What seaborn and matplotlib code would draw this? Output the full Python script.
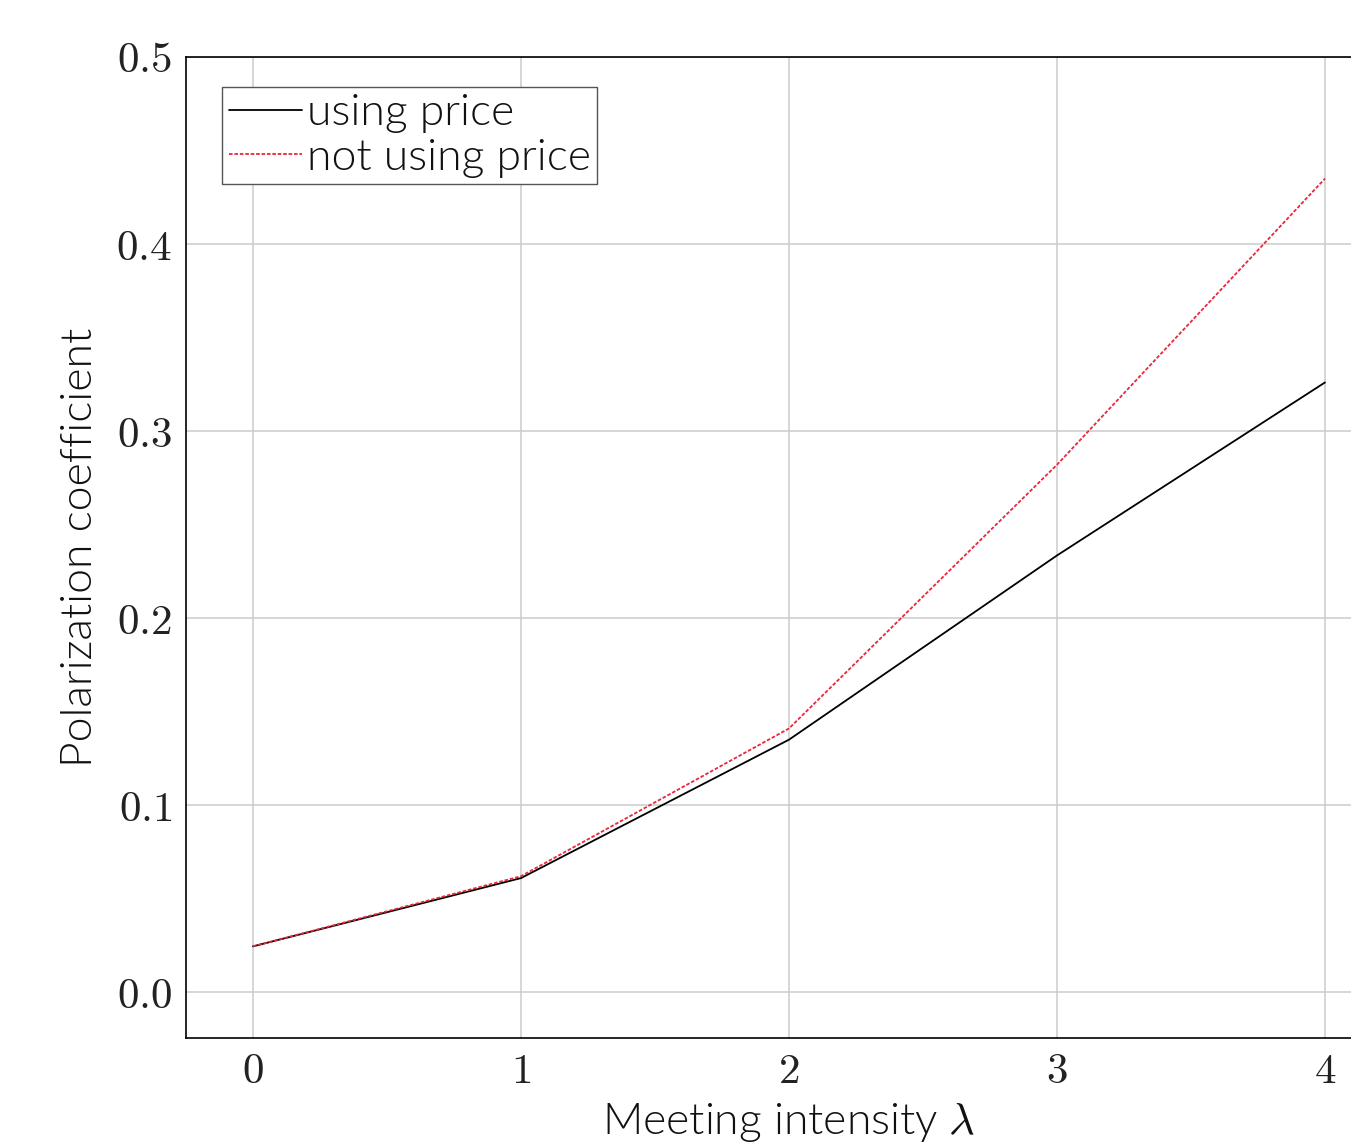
import numpy as np
import pandas as pd
import seaborn as sb
import matplotlib.pyplot as plt

# values
intensity = [0, 1, 2, 3, 4]
using_price = [0.0245, 0.061, 0.135, 0.2335, 0.326]
not_using_price = [0.0245, 0.062, 0.141, 0.282, 0.435]

df = pd.DataFrame({
    "lam": intensity * 2,
    "coef": using_price + not_using_price,
    "series": ["using price"] * 5 + ["not using price"] * 5,
})

sb.set_style("whitegrid")
plt.rcParams["mathtext.fontset"] = "cm"
plt.rcParams["font.family"] = ["Lato", "DejaVu Sans"]
plt.rcParams["text.color"] = "black"
plt.rcParams["axes.labelcolor"] = "black"
plt.rcParams["xtick.color"] = "black"
plt.rcParams["ytick.color"] = "black"

fig = plt.figure(figsize=(13.51, 11.43), dpi=100)
ax = fig.add_axes([186 / 1351, 105 / 1143, 1206 / 1351, 981 / 1143])

sb.lineplot(data=df, x="lam", y="coef", hue="series", style="series",
            palette={"using price": "black", "not using price": "#e8283c"},
            dashes={"using price": "", "not using price": (2, 1)},
            linewidth=1.3, ax=ax)

ax.set_xlim(-0.25, 4.25)
ax.set_ylim(-0.0245, 0.5)
ax.set_xticks(intensity)
ax.set_xticklabels([f"${v}$" for v in intensity])
yt = [0.0, 0.1, 0.2, 0.3, 0.4, 0.5]
ax.set_yticks(yt)
ax.set_yticklabels([f"${v:.1f}$" for v in yt])
ax.tick_params(axis="both", labelsize=31, direction="in", length=5,
               color="#bbbbbb", labelcolor="#222222", pad=10)
ax.grid(color="#cccccc", linewidth=1.1)
for s in ax.spines.values():
    s.set_color("black")
    s.set_linewidth(1.2)

ax.set_xlabel("Meeting intensity $\\lambda$", fontsize=32, fontweight=300,
              color="#111111", labelpad=8)
ax.set_ylabel("Polarization coefficient", fontsize=32, fontweight=300,
              color="#111111", labelpad=12)

leg = ax.legend(loc="upper left", bbox_to_anchor=(0.03, 0.969),
                prop={"weight": 300, "size": 32},
                handlelength=1.65, handletextpad=0.1, borderpad=0.15, labelspacing=0.12,
                borderaxespad=0, fancybox=False, framealpha=1, edgecolor="#555555")
leg.get_frame().set_linewidth(1.0)
for t in leg.get_texts():
    t.set_color("#111111")

fig.savefig("out.png", dpi=100)
